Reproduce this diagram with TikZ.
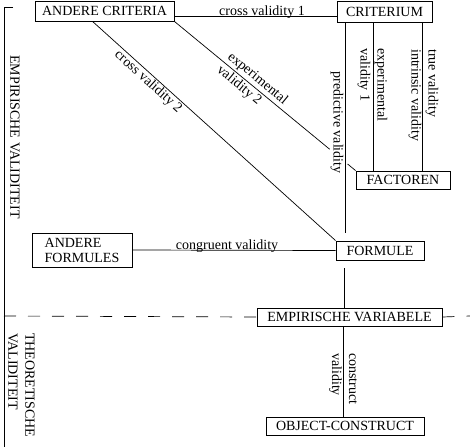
\documentclass[tikz,border=0pt]{standalone}
\usepackage{fontspec}
\setmainfont{Liberation Serif}
\usetikzlibrary{calc}
\begin{document}
\begin{tikzpicture}[x=1pt,y=-1pt,
  font=\fontsize{14}{17}\selectfont,
  box/.style={draw, line width=0.9pt, inner sep=0pt},
  conn/.style={line width=0.7pt},
  lab/.style={inner sep=1pt},
  dashline/.style={line width=0.7pt, dash pattern=on 12pt off 12pt}]
\useasboundingbox (0,0) rectangle (470,447);
% boxes
\node[box, minimum width=139pt, minimum height=20pt] (ac) at (104.5,11) {ANDERE CRITERIA};
\node[box, minimum width=95pt, minimum height=21pt] (crit) at (384.5,11.5) {CRITERIUM};
\node[box, minimum width=94pt, minimum height=18pt] (fac) at (403,180) {FACTOREN};
\node[box, minimum width=88pt, minimum height=19pt] (form) at (380,250.5) {FORMULE};
\node[box, minimum width=185pt, minimum height=18pt] (emp) at (349.5,317) {EMPIRISCHE VARIABELE};
\node[box, minimum width=158pt, minimum height=18pt] (obj) at (345,426) {OBJECT-CONSTRUCT};
\node[box, minimum width=100pt, minimum height=34pt, align=left, font=\fontsize{14}{15}\selectfont] (af) at (82,250) {ANDERE\\FORMULES};
% horizontal connectors
\draw[conn] ([yshift=-5pt]ac.east) -- node[pos=0.54, anchor=base, yshift=1pt, inner sep=0pt]{cross validity 1} ([yshift=-4.5pt]crit.west);
\draw[conn] (af.east) -- node[pos=0.466, anchor=base, yshift=1pt, inner sep=0pt]{congruent validity} (form.west);
% diagonals
\draw[conn] ([xshift=58pt]ac.south west) -- node[pos=0.25, sloped, below, lab]{cross validity 2} (form.north west);
\coordinate (d1) at ($(ac.south east)!0.857!(fac.north west)$);
\coordinate (d2) at ($(ac.south east)!0.956!(fac.north west)$);
\draw[conn] (ac.south east) -- node[pos=0.5, sloped, align=left, lab]{experimental\\validity 2} (d1);
\draw[conn] (d2) -- (fac.north west);
% verticals
\coordinate (v1) at ([xshift=9pt]crit.south west);
\coordinate (v2) at ([xshift=37pt]crit.south west);
\coordinate (v3) at ([xshift=86pt]crit.south west);
\coordinate (v4) at ([xshift=9pt]form.south west);
\coordinate (v5) at ([xshift=87pt]emp.south west);
\draw[conn, shorten >=8pt] (v1) -- (v1 |- form.north);
\draw[conn] (v2) -- (v2 |- fac.north);
\draw[conn] (v3) -- (v3 |- fac.north);
\draw[conn, shorten <=8pt] (v4) -- (v4 |- emp.north);
\draw[conn] (v5) -- (v5 |- obj.north);
% vertical labels
\node[lab, rotate=-90] (pv) at (337,122.5) {predictive validity};
\node[lab, rotate=-90, anchor=west, align=left] (ev1) at (372.5,47) {experimental\\validity 1};
\node[lab, rotate=-90, anchor=west, align=left] (tv) at (423.5,48) {true validity\\intrinsic validity};
\node[lab, rotate=-90, anchor=west, align=left] (cv) at (343,352) {construct\\validity};
\node[lab, rotate=-90] (evl) at (15,137) {EMPIRISCHE VALIDITEIT};
\node[lab, rotate=-90, anchor=west, align=left] (tvl) at (21.5,332) {THEORETISCHE\\VALIDITEIT};
% bracket and dashed divider
\coordinate (bt) at (13,7);
\coordinate (bc) at (4,7);
\coordinate (bb) at (4,447);
\draw[conn] (bt) -- (bc) -- (bb);
\coordinate (dl) at (4,316);
\coordinate (dr) at (470,316);
\draw[dashline] (dl) -- (emp.west);
\draw[dashline] (emp.east) -- (dr);
\end{tikzpicture}
\end{document}
